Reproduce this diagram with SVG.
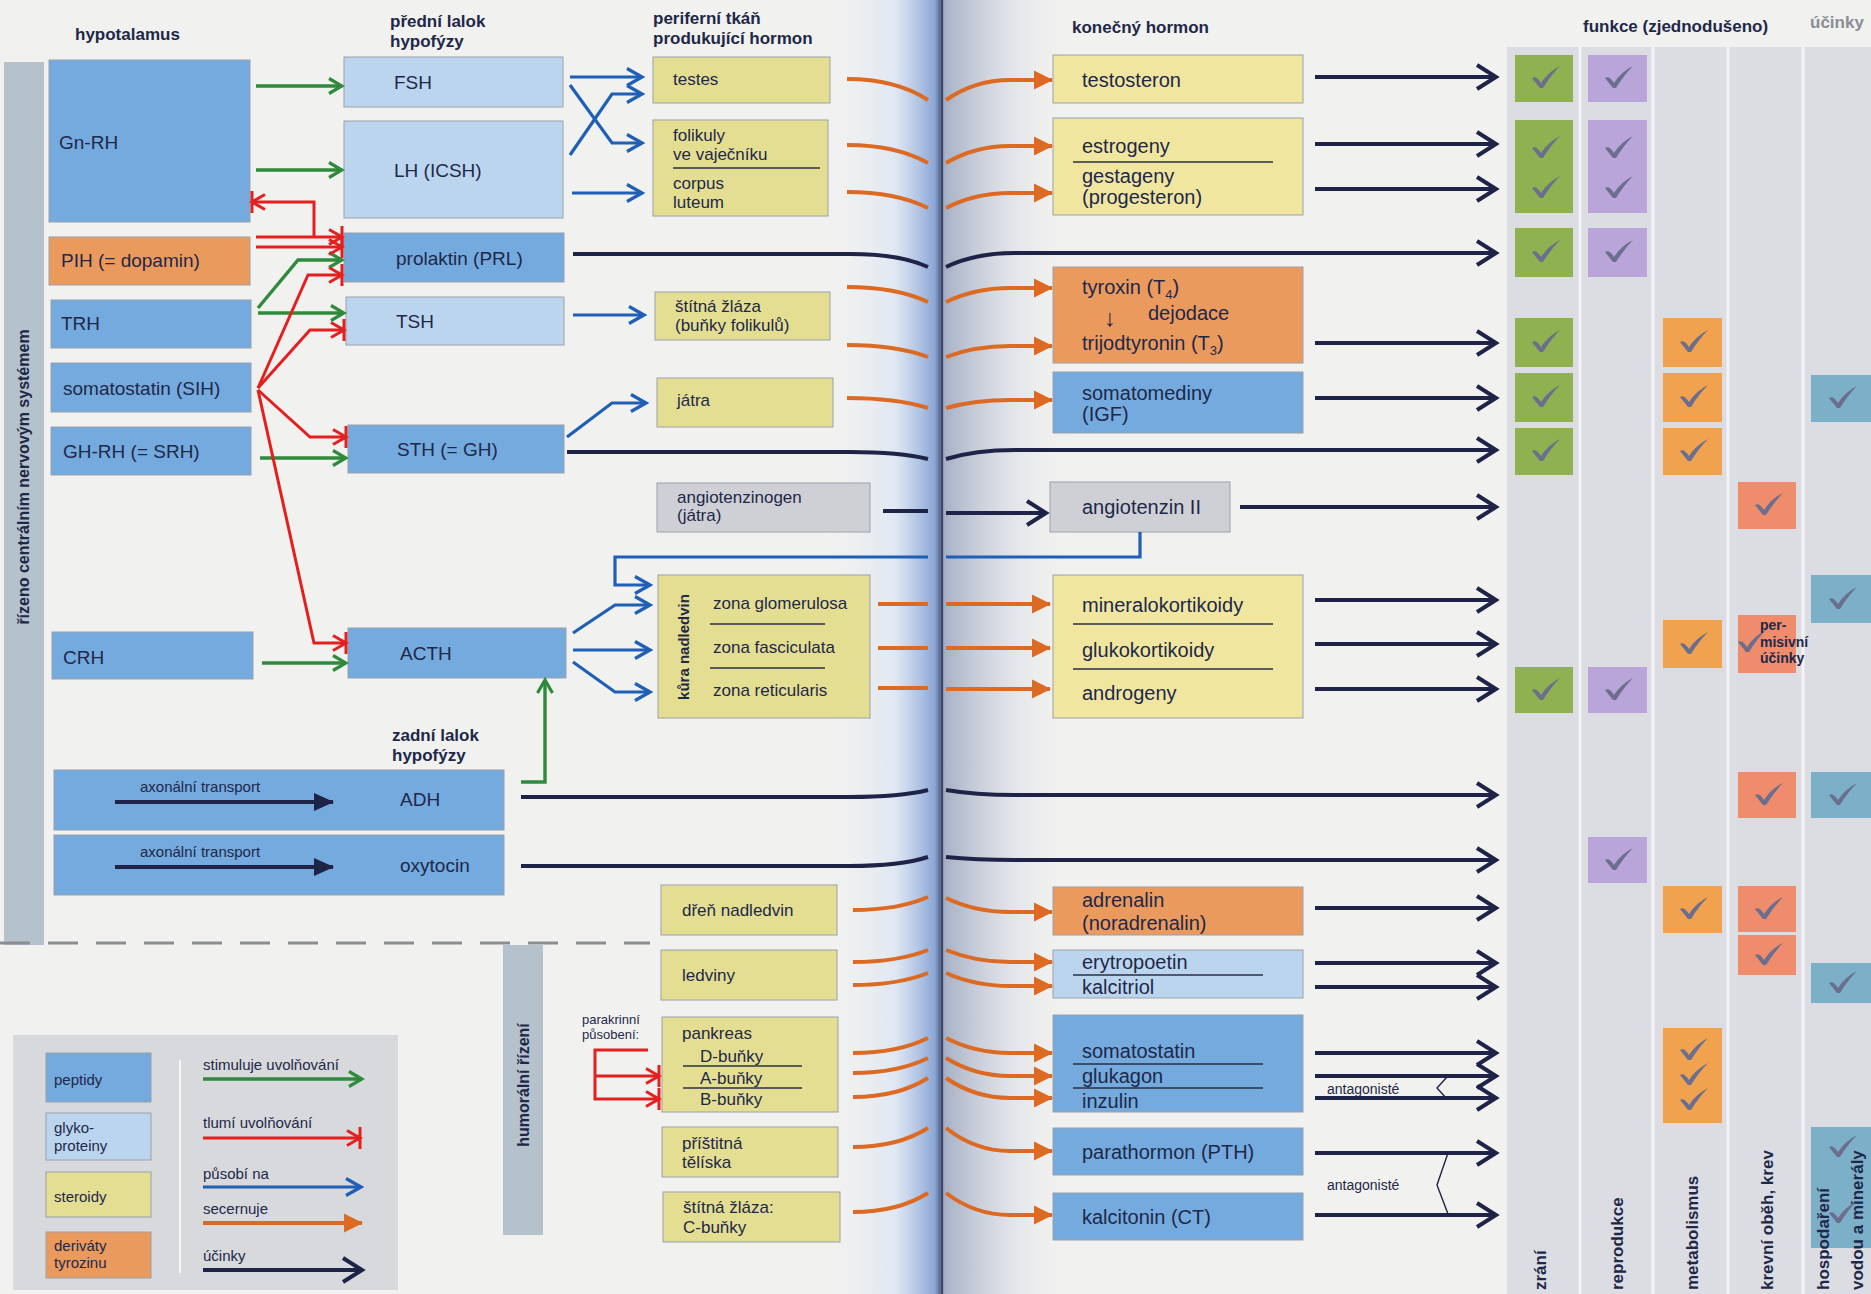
<svg xmlns="http://www.w3.org/2000/svg" xmlns:xlink="http://www.w3.org/1999/xlink" width="1871" height="1294" viewBox="0 0 1871 1294">
<style>
.t{font-family:"Liberation Sans",Arial,sans-serif;fill:#1e2849}
.hd{font-weight:bold;font-size:17px}
.s19{font-size:19px}
.s17{font-size:17px}
.s20{font-size:20px}
.s15{font-size:15px}
.bx{stroke:#9aa2ab;stroke-width:1}
.pep{fill:#74aade}
.gly{fill:#bcd5ee}
.ste{fill:#e4de92}
.ste2{fill:#f0e6a0}
.tyr{fill:#eb9a5d}
.gry{fill:#cfd0d6}
.sep{stroke:#2a2f45;stroke-width:1.3}
.cg{fill:none;stroke:#2f8a3c;stroke-width:3.4}
.cr{fill:none;stroke:#e3201f;stroke-width:3}
.cb{fill:none;stroke:#1f5fb6;stroke-width:3.2}
.co{fill:none;stroke:#dc6a22;stroke-width:4}
.cn{fill:none;stroke:#1f2347;stroke-width:4}
.fg{fill:#8fb14f}.fp{fill:#b9a5d9}.fo{fill:#f0a24e}.fs{fill:#ee8c6c}.ft{fill:#7cafc8}
.vl{font-weight:bold;font-size:17px}
</style>
<defs>
<linearGradient id="spine" x1="820" y1="0" x2="1070" y2="0" gradientUnits="userSpaceOnUse">
<stop offset="0" stop-color="#f1f1ef" stop-opacity="0"/>
<stop offset="0.3" stop-color="#dbe5f4" stop-opacity="0.8"/>
<stop offset="0.46" stop-color="#8aa6d6"/>
<stop offset="0.48" stop-color="#5a6b92"/>
<stop offset="0.5" stop-color="#a8b1c6"/>
<stop offset="0.75" stop-color="#d7dbe4" stop-opacity="0.7"/>
<stop offset="1" stop-color="#f1f1ef" stop-opacity="0"/>
</linearGradient>
<marker id="mg" markerUnits="userSpaceOnUse" viewBox="0 0 20 20" markerWidth="20" markerHeight="20" refX="17" refY="10" orient="auto"><path d="M4,2.5 L17,10 L4,17.5" fill="none" stroke="#2f8a3c" stroke-width="3.2"/></marker>
<marker id="mr" markerUnits="userSpaceOnUse" viewBox="0 0 20 22" markerWidth="20" markerHeight="22" refX="17" refY="11" orient="auto"><path d="M4,3.5 L17,11 L4,18.5 M17,0 V22" fill="none" stroke="#e3201f" stroke-width="3"/></marker>
<marker id="mb" markerUnits="userSpaceOnUse" viewBox="0 0 22 22" markerWidth="22" markerHeight="22" refX="19" refY="11" orient="auto"><path d="M4,2.5 L19,11 L4,19.5" fill="none" stroke="#1f5fb6" stroke-width="3.2"/></marker>
<marker id="mo" markerUnits="userSpaceOnUse" viewBox="0 0 20 20" markerWidth="20" markerHeight="20" refX="18" refY="10" orient="auto"><path d="M0,0.5 L19,10 L0,19.5 Z" fill="#dc6a22"/></marker>
<marker id="mn" markerUnits="userSpaceOnUse" viewBox="0 0 26 28" markerWidth="26" markerHeight="28" refX="22" refY="14" orient="auto"><path d="M3,2 L22,14 L3,26" fill="none" stroke="#1f2347" stroke-width="4"/></marker>
<marker id="mf" markerUnits="userSpaceOnUse" viewBox="0 0 20 20" markerWidth="20" markerHeight="20" refX="19" refY="10" orient="auto"><path d="M0,1 L20,10 L0,19 Z" fill="#1f2347"/></marker>
<path id="ck" d="M-14,0 Q-10,-3 -5,5 Q2,-6 14,-12 Q5,-3 -3,10 L-6,10 Z" fill="#6b6e8d"/>
</defs>

<rect x="0" y="0" width="1871" height="1294" fill="#f1f1ef"/>
<rect x="820" y="0" width="250" height="1294" fill="url(#spine)"/>
<line x1="942" y1="0" x2="942" y2="1294" stroke="#3a4563" stroke-width="2"/>

<!-- function table background -->
<g id="function-table-bg">
<rect x="1507" y="47" width="364" height="1247" fill="#dcdde3"/>
<g stroke="#f4f4f6" stroke-width="3">
<line x1="1580" y1="47" x2="1580" y2="1294"/><line x1="1653" y1="47" x2="1653" y2="1294"/><line x1="1728" y1="47" x2="1728" y2="1294"/><line x1="1803" y1="47" x2="1803" y2="1294"/>
</g>
</g>

<!-- headers -->
<g id="headers" class="t hd">
<text x="75" y="40">hypotalamus</text>
<text x="390" y="27">přední lalok</text>
<text x="390" y="47">hypofýzy</text>
<text x="653" y="24">periferní tkáň</text>
<text x="653" y="44">produkující hormon</text>
<text x="1072" y="33">konečný hormon</text>
<text x="1583" y="32">funkce (zjednodušeno)</text>
<text x="1810" y="28" style="fill:#8a8c95">účinky</text>
<text x="392" y="741">zadní lalok</text>
<text x="392" y="761">hypofýzy</text>
</g>

<!-- side bars -->
<g id="cns-bar">
<rect x="4" y="62" width="40" height="883" fill="#b5c2cb"/>
<text class="t" transform="translate(29,477) rotate(-90)" text-anchor="middle" style="font-weight:bold;font-size:16px">řízeno centrálním nervovým systémem</text>
</g>
<line x1="0" y1="943" x2="650" y2="943" stroke="#8a8e93" stroke-width="3" stroke-dasharray="30 18"/>
<g id="humoral-bar">
<rect x="503" y="945" width="40" height="290" fill="#b5c2cb"/>
<text class="t" transform="translate(529,1085) rotate(-90)" text-anchor="middle" style="font-weight:bold;font-size:16px">humorální řízení</text>
</g>

<!-- hypothalamus -->
<g id="gnrh"><rect class="bx pep" x="49" y="60" width="201" height="162"/><text class="t s19" x="59" y="149">Gn-RH</text></g>
<g id="pih"><rect class="bx tyr" x="49" y="237" width="201" height="48"/><text class="t s19" x="61" y="267">PIH (= dopamin)</text></g>
<g id="trh"><rect class="bx pep" x="51" y="300" width="200" height="48"/><text class="t s19" x="61" y="330">TRH</text></g>
<g id="sih"><rect class="bx pep" x="51" y="363" width="200" height="49"/><text class="t s19" x="63" y="395">somatostatin (SIH)</text></g>
<g id="ghrh"><rect class="bx pep" x="51" y="427" width="200" height="48"/><text class="t s19" x="63" y="458">GH-RH (= SRH)</text></g>
<g id="crh"><rect class="bx pep" x="52" y="632" width="201" height="47"/><text class="t s19" x="63" y="664">CRH</text></g>
<g id="adh"><rect class="bx pep" x="54" y="770" width="450" height="60"/><text class="t s15" x="140" y="792">axonální transport</text><text class="t s19" x="400" y="806">ADH</text></g>
<g id="oxytocin"><rect class="bx pep" x="54" y="835" width="450" height="60"/><text class="t s15" x="140" y="857">axonální transport</text><text class="t s19" x="400" y="872">oxytocin</text></g>

<!-- anterior pituitary -->
<g id="fsh"><rect class="bx gly" x="344" y="57" width="219" height="50"/><text class="t s19" x="394" y="89">FSH</text></g>
<g id="lh"><rect class="bx gly" x="344" y="121" width="219" height="97"/><text class="t s19" x="394" y="177">LH (ICSH)</text></g>
<g id="prl"><rect class="bx pep" x="344" y="233" width="220" height="49"/><text class="t s19" x="396" y="265">prolaktin (PRL)</text></g>
<g id="tsh"><rect class="bx gly" x="346" y="297" width="218" height="48"/><text class="t s19" x="396" y="328">TSH</text></g>
<g id="sth"><rect class="bx pep" x="348" y="425" width="216" height="48"/><text class="t s19" x="397" y="456">STH (= GH)</text></g>
<g id="acth"><rect class="bx pep" x="348" y="628" width="218" height="50"/><text class="t s19" x="400" y="660">ACTH</text></g>

<!-- peripheral tissue -->
<g id="testes"><rect class="bx ste" x="653" y="57" width="177" height="46"/><text class="t s17" x="673" y="85">testes</text></g>
<g id="ovary"><rect class="bx ste" x="653" y="120" width="175" height="96"/><text class="t s17" x="673" y="141">folikuly</text><text class="t s17" x="673" y="160">ve vaječníku</text><line class="sep" x1="673" y1="168" x2="820" y2="168"/><text class="t s17" x="673" y="189">corpus</text><text class="t s17" x="673" y="208">luteum</text></g>
<g id="thyroid"><rect class="bx ste" x="655" y="292" width="175" height="48"/><text class="t s17" x="675" y="312">štítná žláza</text><text class="t s17" x="675" y="331">(buňky folikulů)</text></g>
<g id="liver"><rect class="bx ste" x="657" y="378" width="176" height="49"/><text class="t s17" x="677" y="406">játra</text></g>
<g id="angiotensinogen"><rect class="bx gry" x="657" y="483" width="213" height="49"/><text class="t s17" x="677" y="503">angiotenzinogen</text><text class="t s17" x="677" y="521">(játra)</text></g>
<g id="adrenal-cortex"><rect class="bx ste" x="658" y="575" width="212" height="143"/>
<text class="t" transform="translate(689,647) rotate(-90)" text-anchor="middle" style="font-weight:bold;font-size:15px">kůra nadledvin</text>
<text class="t s17" x="713" y="609">zona glomerulosa</text><line class="sep" x1="710" y1="624" x2="825" y2="624"/>
<text class="t s17" x="713" y="653">zona fasciculata</text><line class="sep" x1="710" y1="668" x2="825" y2="668"/>
<text class="t s17" x="713" y="696">zona reticularis</text></g>
<g id="adrenal-medulla"><rect class="bx ste" x="661" y="885" width="176" height="50"/><text class="t s17" x="682" y="916">dřeň nadledvin</text></g>
<g id="kidney"><rect class="bx ste" x="661" y="950" width="176" height="50"/><text class="t s17" x="682" y="981">ledviny</text></g>
<g id="pancreas"><rect class="bx ste" x="662" y="1017" width="176" height="95"/><text class="t s17" x="682" y="1039">pankreas</text><text class="t s17" x="700" y="1062">D-buňky</text><line class="sep" x1="683" y1="1066" x2="802" y2="1066"/><text class="t s17" x="700" y="1084">A-buňky</text><line class="sep" x1="683" y1="1088" x2="802" y2="1088"/><text class="t s17" x="700" y="1105">B-buňky</text></g>
<g id="parathyroid"><rect class="bx ste" x="662" y="1127" width="176" height="50"/><text class="t s17" x="682" y="1149">příštitná</text><text class="t s17" x="682" y="1168">tělíska</text></g>
<g id="c-cells"><rect class="bx ste" x="663" y="1192" width="177" height="50"/><text class="t s17" x="683" y="1213">štítná žláza:</text><text class="t s17" x="683" y="1233">C-buňky</text></g>
<g id="paracrine-label"><text class="t" x="582" y="1024" style="font-size:13px">parakrinní</text><text class="t" x="582" y="1039" style="font-size:13px">působení:</text></g>

<!-- final hormones -->
<g id="testosteron"><rect class="bx ste2" x="1053" y="55" width="250" height="48"/><text class="t s20" x="1082" y="87">testosteron</text></g>
<g id="estrogens"><rect class="bx ste2" x="1053" y="118" width="250" height="97"/><text class="t s20" x="1082" y="153">estrogeny</text><line class="sep" x1="1073" y1="162" x2="1273" y2="162"/><text class="t s20" x="1082" y="183">gestageny</text><text class="t s20" x="1082" y="204">(progesteron)</text></g>
<g id="thyroxin"><rect class="bx tyr" x="1053" y="267" width="250" height="96"/><text class="t s20" x="1082" y="294">tyroxin (T<tspan font-size="13" dy="5">4</tspan><tspan dy="-5">)</tspan></text><text class="t" x="1104" y="326" style="font-size:24px">↓</text><text class="t s20" x="1148" y="320">dejodace</text><text class="t s20" x="1082" y="350">trijodtyronin (T<tspan font-size="13" dy="5">3</tspan><tspan dy="-5">)</tspan></text></g>
<g id="somatomedins"><rect class="bx pep" x="1053" y="372" width="250" height="61"/><text class="t s20" x="1082" y="400">somatomediny</text><text class="t s20" x="1082" y="421">(IGF)</text></g>
<g id="angiotensin2"><rect class="bx gry" x="1050" y="482" width="180" height="50"/><text class="t s20" x="1082" y="514">angiotenzin II</text></g>
<g id="corticoids"><rect class="bx ste2" x="1053" y="575" width="250" height="143"/><text class="t s20" x="1082" y="612">mineralokortikoidy</text><line class="sep" x1="1073" y1="624" x2="1273" y2="624"/><text class="t s20" x="1082" y="657">glukokortikoidy</text><line class="sep" x1="1073" y1="669" x2="1273" y2="669"/><text class="t s20" x="1082" y="700">androgeny</text></g>
<g id="adrenalin"><rect class="bx tyr" x="1053" y="887" width="250" height="48"/><text class="t s20" x="1082" y="907">adrenalin</text><text class="t s20" x="1082" y="930">(noradrenalin)</text></g>
<g id="erythropoetin"><rect class="bx gly" x="1053" y="950" width="250" height="48"/><text class="t s20" x="1082" y="969">erytropoetin</text><line class="sep" x1="1073" y1="975" x2="1263" y2="975"/><text class="t s20" x="1082" y="994">kalcitriol</text></g>
<g id="pancreatic-hormones"><rect class="bx pep" x="1053" y="1015" width="250" height="97"/><text class="t s20" x="1082" y="1058">somatostatin</text><line class="sep" x1="1073" y1="1064" x2="1263" y2="1064"/><text class="t s20" x="1082" y="1083">glukagon</text><line class="sep" x1="1073" y1="1088" x2="1263" y2="1088"/><text class="t s20" x="1082" y="1108">inzulin</text></g>
<g id="pth"><rect class="bx pep" x="1053" y="1128" width="250" height="47"/><text class="t s20" x="1082" y="1159">parathormon (PTH)</text></g>
<g id="ct"><rect class="bx pep" x="1053" y="1193" width="250" height="47"/><text class="t s20" x="1082" y="1224">kalcitonin (CT)</text></g>
<g id="antagonists" class="t" style="font-size:14px"><text x="1327" y="1094">antagonisté</text><text x="1327" y="1190">antagonisté</text></g>

<!-- connectors -->
<g id="connectors">
<g class="cn" marker-end="url(#mf)"><path d="M115,802 H333"/><path d="M115,867 H333"/></g>
<g class="cg" marker-end="url(#mg)">
<path d="M256,86 H342"/><path d="M256,170 H342"/><path d="M258,308 L298,260 H342"/><path d="M258,313 H344"/><path d="M260,458 H346"/><path d="M262,663 H346"/><path d="M521,782 H545 V680"/>
</g>
<g class="cr" marker-end="url(#mr)">
<path d="M256,237 H342"/><path d="M256,247 H342"/><path d="M314,237 V202 H252"/>
<path d="M258,388 L308,275 H342"/><path d="M258,388 L310,330 H344"/><path d="M258,390 L310,437 H346"/><path d="M258,390 L314,643 H346"/>
<path d="M648,1050 H595 V1099 H659"/><path d="M595,1076 H659"/>
</g>
<g class="cb">
<g marker-end="url(#mb)">
<path d="M570,77 H642"/><path d="M570,85 L612,143 H642"/><path d="M570,155 L612,94 H642"/><path d="M572,193 H642"/><path d="M573,315 H644"/><path d="M567,437 L612,403 H646"/>
<path d="M573,633 L615,605 H650"/><path d="M573,650 H650"/><path d="M573,662 L615,692 H650"/>
<path d="M928,557 H615 V585 H650"/>
</g>
<path d="M1140,532 V557 H946"/>
</g>
<g class="co">
<path d="M847,79 Q896,79 928,100"/><path d="M847,145 Q896,145 928,163"/><path d="M847,192 Q896,192 928,208"/><path d="M847,287 Q896,287 928,302"/><path d="M847,345 Q896,345 928,357"/><path d="M847,398 Q896,398 928,408"/>
<path d="M878,604 H928"/><path d="M878,648 H928"/><path d="M878,688 H928"/>
<path d="M853,910 Q898,910 928,897"/><path d="M853,962 Q898,962 928,950"/><path d="M853,985 Q898,985 928,973"/><path d="M853,1053 Q898,1053 928,1038"/><path d="M853,1073 Q898,1073 928,1058"/><path d="M853,1097 Q898,1097 928,1078"/><path d="M853,1147 Q898,1147 928,1128"/><path d="M853,1212 Q898,1212 928,1193"/>
</g>
<g class="co" marker-end="url(#mo)">
<path d="M946,100 Q975,80 1010,80 H1052"/><path d="M946,163 Q975,146 1010,146 H1052"/><path d="M946,208 Q975,193 1010,193 H1052"/><path d="M946,302 Q975,288 1010,288 H1052"/><path d="M946,357 Q975,346 1010,346 H1052"/><path d="M946,408 Q975,400 1010,400 H1052"/>
<path d="M946,604 H1050"/><path d="M946,648 H1050"/><path d="M946,689 H1050"/>
<path d="M946,898 Q975,912 1010,912 H1052"/><path d="M946,950 Q975,962 1010,962 H1052"/><path d="M946,973 Q975,986 1010,986 H1052"/><path d="M946,1038 Q975,1053 1010,1053 H1052"/><path d="M946,1058 Q975,1076 1010,1076 H1052"/><path d="M946,1078 Q975,1098 1010,1098 H1052"/><path d="M946,1128 Q975,1151 1010,1151 H1052"/><path d="M946,1193 Q975,1215 1010,1215 H1052"/>
</g>
<g class="cn">
<path d="M573,254 H850 Q900,254 928,267"/><path d="M567,452 H850 Q900,452 928,459"/><path d="M883,511 H928"/><path d="M521,797 H850 Q900,797 928,790"/><path d="M521,866 H850 Q900,866 928,857"/>
</g>
<g class="cn" marker-end="url(#mn)">
<path d="M946,267 Q975,253 1015,253 H1496"/><path d="M946,459 Q975,450 1015,450 H1496"/><path d="M946,513 H1046"/><path d="M946,790 Q975,795 1015,795 H1496"/><path d="M946,857 Q975,860 1015,860 H1496"/>
<path d="M1315,77 H1496"/><path d="M1315,144 H1496"/><path d="M1315,189 H1496"/><path d="M1315,343 H1496"/><path d="M1315,398 H1496"/><path d="M1240,507 H1496"/><path d="M1315,600 H1496"/><path d="M1315,644 H1496"/><path d="M1315,689 H1496"/>
<path d="M1315,908 H1496"/><path d="M1315,963 H1496"/><path d="M1315,987 H1496"/><path d="M1315,1053 H1496"/><path d="M1315,1076 H1496"/><path d="M1315,1098 H1496"/><path d="M1315,1153 H1496"/><path d="M1315,1215 H1496"/>
</g>
<g fill="none" stroke="#1f2347" stroke-width="1.4"><path d="M1447,1077 L1437,1088 L1447,1099"/><path d="M1448,1153 L1437,1185 L1448,1214"/></g>
</g>

<!-- function check boxes -->
<g id="functions">
<g class="fg"><rect x="1515" y="55" width="58" height="47"/><rect x="1515" y="120" width="58" height="93"/><rect x="1515" y="228" width="58" height="49"/><rect x="1515" y="318" width="58" height="49"/><rect x="1515" y="373" width="58" height="49"/><rect x="1515" y="428" width="58" height="47"/><rect x="1515" y="667" width="58" height="46"/></g>
<g class="fp"><rect x="1588" y="55" width="59" height="47"/><rect x="1588" y="120" width="59" height="93"/><rect x="1588" y="228" width="59" height="49"/><rect x="1588" y="667" width="59" height="46"/><rect x="1588" y="837" width="59" height="46"/></g>
<g class="fo"><rect x="1663" y="318" width="59" height="49"/><rect x="1663" y="373" width="59" height="49"/><rect x="1663" y="428" width="59" height="47"/><rect x="1663" y="620" width="59" height="48"/><rect x="1663" y="886" width="59" height="47"/><rect x="1663" y="1028" width="59" height="95"/></g>
<g class="fs"><rect x="1738" y="482" width="58" height="47"/><rect x="1738" y="615" width="58" height="58"/><rect x="1738" y="772" width="58" height="46"/><rect x="1738" y="886" width="58" height="46"/><rect x="1738" y="935" width="58" height="40"/></g>
<g class="ft"><rect x="1811" y="375" width="60" height="47"/><rect x="1811" y="575" width="60" height="48"/><rect x="1811" y="772" width="60" height="46"/><rect x="1811" y="963" width="60" height="40"/><rect x="1811" y="1127" width="60" height="121"/></g>
<g>
<use href="#ck" x="1546" y="78"/><use href="#ck" x="1546" y="148"/><use href="#ck" x="1546" y="188"/><use href="#ck" x="1546" y="252"/><use href="#ck" x="1546" y="342"/><use href="#ck" x="1546" y="397"/><use href="#ck" x="1546" y="451"/><use href="#ck" x="1546" y="690"/>
<use href="#ck" x="1619" y="78"/><use href="#ck" x="1619" y="148"/><use href="#ck" x="1619" y="188"/><use href="#ck" x="1619" y="252"/><use href="#ck" x="1619" y="690"/><use href="#ck" x="1619" y="860"/>
<use href="#ck" x="1694" y="342"/><use href="#ck" x="1694" y="397"/><use href="#ck" x="1694" y="451"/><use href="#ck" x="1694" y="644"/><use href="#ck" x="1694" y="909"/><use href="#ck" x="1694" y="1050"/><use href="#ck" x="1694" y="1075"/><use href="#ck" x="1694" y="1100"/>
<use href="#ck" x="1769" y="505"/><use href="#ck" x="1752" y="642"/><use href="#ck" x="1769" y="795"/><use href="#ck" x="1769" y="909"/><use href="#ck" x="1769" y="955"/>
<use href="#ck" x="1843" y="398"/><use href="#ck" x="1843" y="599"/><use href="#ck" x="1843" y="795"/><use href="#ck" x="1843" y="983"/><use href="#ck" x="1843" y="1147"/><use href="#ck" x="1843" y="1213"/>
</g>
<g class="t" style="font-weight:bold;font-size:14px"><text x="1760" y="630">per-</text><text x="1760" y="647">misivní</text><text x="1760" y="663">účinky</text></g>
<g class="t vl">
<text transform="translate(1546,1290) rotate(-90)">zrání</text>
<text transform="translate(1623,1290) rotate(-90)">reprodukce</text>
<text transform="translate(1698,1290) rotate(-90)">metabolismus</text>
<text transform="translate(1773,1290) rotate(-90)">krevní oběh, krev</text>
<text transform="translate(1829,1290) rotate(-90)">hospodaření</text>
<text transform="translate(1863,1290) rotate(-90)">vodou a minerály</text>
</g>
</g>

<!-- legend -->
<g id="legend">
<rect x="13" y="1035" width="385" height="255" fill="#d7d9dc"/>
<line x1="180" y1="1060" x2="180" y2="1273" stroke="#f6f6f6" stroke-width="2"/>
<rect class="bx pep" x="46" y="1053" width="105" height="49"/><text class="t s15" x="54" y="1085">peptidy</text>
<rect class="bx gly" x="46" y="1113" width="105" height="47"/><text class="t s15" x="54" y="1133">glyko-</text><text class="t s15" x="54" y="1151">proteiny</text>
<rect class="bx ste" x="46" y="1172" width="105" height="45"/><text class="t s15" x="54" y="1202">steroidy</text>
<rect class="bx tyr" x="46" y="1232" width="105" height="46"/><text class="t s15" x="54" y="1251">deriváty</text><text class="t s15" x="54" y="1268">tyrozinu</text>
<text class="t s15" x="203" y="1070">stimuluje uvolňování</text><path class="cg" d="M203,1079 H362" marker-end="url(#mg)"/>
<text class="t s15" x="203" y="1128">tlumí uvolňování</text><path class="cr" d="M203,1138 H360" marker-end="url(#mr)"/>
<text class="t s15" x="203" y="1179">působí na</text><path class="cb" d="M203,1187 H361" marker-end="url(#mb)"/>
<text class="t s15" x="203" y="1214">secernuje</text><path class="co" d="M203,1223 H362" marker-end="url(#mo)"/>
<text class="t s15" x="203" y="1261">účinky</text><path class="cn" d="M203,1270 H362" marker-end="url(#mn)"/>
</g>
</svg>
